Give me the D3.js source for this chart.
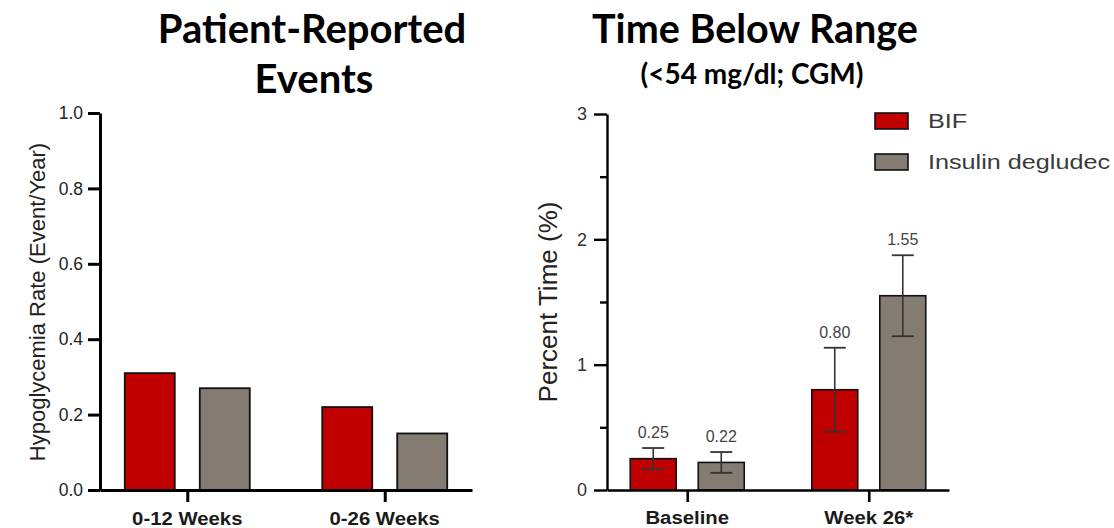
<!DOCTYPE html>
<html lang="en">
<head>
    <meta charset="UTF-8">
    <title>Hypoglycemia: Patient-Reported Events and Time Below Range</title>
    <script src="https://d3js.org/d3.v7.min.js"></script>
    <style>
        body {
            margin: 0;
            background: #fff;
        }
        svg {
            display: block;
            background: #fff;
        }
        .title {
            font-family: 'Lato', 'Open Sans', sans-serif;
            font-weight: 700;
            fill: #000;
        }
        .axis text {
            font-family: 'Liberation Sans', Arial, sans-serif;
        }
        .cat-label {
            font-family: 'Liberation Sans', Arial, sans-serif;
            font-weight: bold;
            fill: #1a1a1a;
        }
        .val-label {
            font-family: 'Liberation Sans', Arial, sans-serif;
            fill: #444;
        }
        .legend text {
            font-family: 'Liberation Sans', Arial, sans-serif;
            fill: #3a3a3a;
        }
        .ytitle {
            font-family: 'Liberation Sans', Arial, sans-serif;
            fill: #222;
        }
    </style>
</head>
<body>
<svg width="1114" height="528"></svg>

<script>
    // ---- data ----
    const seriesNames = ["BIF", "Insulin degludec"];
    const seriesColors = ["#c00000", "#847b72"];

    // left panel: patient-reported hypoglycemia rate
    const eventCats = ["0-12 Weeks", "0-26 Weeks"];
    const eventBif = [0.31, 0.22];
    const eventDeg = [0.27, 0.15];
    const eventTicks = [0, 0.2, 0.4, 0.6, 0.8, 1.0];

    // right panel: time below range (<54 mg/dl)
    const tbrCats = ["Baseline", "Week 26*"];
    const tbrBif = [0.25, 0.80];
    const tbrDeg = [0.22, 1.55];
    const tbrBifErr = [0.085, 0.335];
    const tbrDegErr = [0.083, 0.323];
    const tbrTicks = [0, 1, 2, 3];
    const tbrMinorTicks = [0.5, 1.5, 2.5];

    const svg = d3.select("svg");

    // horizontally stretched text, like the pasted Prism graphs
    function stretchText(parent, x, y, txt, cls, size, sx, anchor) {
        return parent.append("text")
            .attr("class", cls)
            .attr("transform", `translate(${x},${y}) scale(${sx},1)`)
            .attr("text-anchor", anchor || "middle")
            .style("font-size", size + "px")
            .text(txt);
    }

    // ---- titles ----
    const titles = svg.append("g");
    titles.append("text").attr("class", "title").attr("x", 312).attr("y", 43)
        .attr("text-anchor", "middle").style("font-size", "40px").text("Patient-Reported");
    titles.append("text").attr("class", "title").attr("x", 314).attr("y", 93)
        .attr("text-anchor", "middle").style("font-size", "40px").text("Events");
    titles.append("text").attr("class", "title").attr("x", 755).attr("y", 43)
        .attr("text-anchor", "middle").style("font-size", "39.5px").text("Time Below Range");
    titles.append("text").attr("class", "title").attr("x", 752).attr("y", 84)
        .attr("text-anchor", "middle").style("font-size", "28px").text("(<54 mg/dl; CGM)");

    // ---- left panel ----
    (function () {
        const left = 100, right = 472, top = 113, bottom = 490;
        const g = svg.append("g");
        const y = d3.scaleLinear().domain([0, 1]).range([bottom, top]);
        const x0 = d3.scalePoint().domain(eventCats).range([left, right]).padding(0.442);
        const x1 = d3.scaleBand().domain(seriesNames).range([-62.5, 62.5]).paddingInner(1 / 3);

        const rows = eventCats.map((c, i) => ({cat: c, vals: [eventBif[i], eventDeg[i]]}));

        g.selectAll("g.grp").data(rows).enter().append("g")
            .attr("transform", d => `translate(${x0(d.cat)},0)`)
            .selectAll("rect").data(d => d.vals.map((v, k) => ({k, v}))).enter().append("rect")
            .attr("x", d => x1(seriesNames[d.k]))
            .attr("width", x1.bandwidth())
            .attr("y", d => y(d.v))
            .attr("height", d => y(0) - y(d.v))
            .attr("fill", d => seriesColors[d.k])
            .attr("stroke", "#111")
            .attr("stroke-width", 1.8);

        const yAxis = g.append("g").attr("class", "axis")
            .attr("transform", `translate(${left},0)`)
            .call(d3.axisLeft(y).tickValues(eventTicks).tickFormat(d3.format(".1f"))
                .tickSize(12).tickSizeOuter(0).tickPadding(5));
        yAxis.selectAll("path, line").style("stroke", "#000").style("stroke-width", "3px");
        yAxis.selectAll("text").style("font-size", "17.5px").attr("fill", "#222");

        const xAxis = g.append("g").attr("class", "axis")
            .attr("transform", `translate(0,${bottom})`)
            .call(d3.axisBottom(x0).tickSize(12).tickSizeOuter(0).tickFormat(""));
        xAxis.selectAll("path, line").style("stroke", "#000").style("stroke-width", "3px");

        eventCats.forEach(c => stretchText(g, x0(c), 525, c, "cat-label", 18, 1.13));

        g.append("text").attr("class", "ytitle")
            .attr("transform", "translate(45,302) rotate(-90)")
            .attr("text-anchor", "middle")
            .style("font-size", "22px")
            .text("Hypoglycemia Rate (Event/Year)");
    })();

    // ---- right panel ----
    (function () {
        const left = 607, right = 949, top = 114, bottom = 490;
        const g = svg.append("g");
        const y = d3.scaleLinear().domain([0, 3]).range([bottom, top]);
        const x0 = d3.scalePoint().domain(tbrCats).range([left, right]).padding(0.442);
        const x1 = d3.scaleBand().domain(seriesNames).range([-57, 57]).paddingInner(0.324);

        const rows = tbrCats.map((c, i) => ({
            cat: c,
            vals: [{k: 0, v: tbrBif[i], e: tbrBifErr[i]}, {k: 1, v: tbrDeg[i], e: tbrDegErr[i]}]
        }));

        const grp = g.selectAll("g.grp").data(rows).enter().append("g")
            .attr("transform", d => `translate(${x0(d.cat)},0)`);

        const bar = grp.selectAll("g.bar").data(d => d.vals).enter().append("g");

        bar.append("rect")
            .attr("x", d => x1(seriesNames[d.k]))
            .attr("width", x1.bandwidth())
            .attr("y", d => y(d.v))
            .attr("height", d => y(0) - y(d.v))
            .attr("fill", d => seriesColors[d.k])
            .attr("stroke", "#111")
            .attr("stroke-width", 1.6);

        const cx = d => x1(seriesNames[d.k]) + x1.bandwidth() / 2;
        bar.append("line")
            .attr("x1", cx).attr("x2", cx)
            .attr("y1", d => y(d.v + d.e)).attr("y2", d => y(d.v - d.e))
            .attr("stroke", "#333").attr("stroke-width", 1.6);
        [1, -1].forEach(s => {
            bar.append("line")
                .attr("x1", d => cx(d) - 11).attr("x2", d => cx(d) + 11)
                .attr("y1", d => y(d.v + s * d.e)).attr("y2", d => y(d.v + s * d.e))
                .attr("stroke", "#333").attr("stroke-width", 1.8);
        });

        bar.append("text")
            .attr("class", "val-label")
            .attr("x", cx)
            .attr("y", d => y(d.v + d.e) - 10)
            .attr("text-anchor", "middle")
            .style("font-size", "16px")
            .text(d => d.v.toFixed(2));

        const yAxis = g.append("g").attr("class", "axis")
            .attr("transform", `translate(${left},0)`)
            .call(d3.axisLeft(y).tickValues(tbrTicks).tickFormat(d3.format("d"))
                .tickSize(13).tickSizeOuter(0).tickPadding(7));
        yAxis.selectAll("path, line").style("stroke", "#000").style("stroke-width", "2.4px");
        yAxis.selectAll("text").style("font-size", "18px").attr("fill", "#333");

        const minor = g.append("g").attr("class", "axis")
            .attr("transform", `translate(${left},0)`)
            .call(d3.axisLeft(y).tickValues(tbrMinorTicks).tickFormat("").tickSize(7).tickSizeOuter(0));
        minor.select("path").remove();
        minor.selectAll("line").style("stroke", "#000").style("stroke-width", "2.4px");

        const xAxis = g.append("g").attr("class", "axis")
            .attr("transform", `translate(0,${bottom})`)
            .call(d3.axisBottom(x0).tickSize(12).tickSizeOuter(0).tickFormat(""));
        xAxis.selectAll("path, line").style("stroke", "#000").style("stroke-width", "2.6px");

        tbrCats.forEach(c => stretchText(g, x0(c), 524, c, "cat-label", 18, 1.13));

        g.append("text").attr("class", "ytitle")
            .attr("transform", "translate(557,302) rotate(-90)")
            .attr("text-anchor", "middle")
            .style("font-size", "26px")
            .text("Percent Time (%)");

        // legend
        const legend = g.append("g").attr("class", "legend");
        const ly = d3.scalePoint().domain(seriesNames).range([121, 162]);
        seriesNames.forEach((s, i) => {
            legend.append("rect")
                .attr("x", 875).attr("y", ly(s) - 8)
                .attr("width", 33).attr("height", 16)
                .attr("fill", seriesColors[i])
                .attr("stroke", "#111").attr("stroke-width", 1.6);
            stretchText(legend, 928, ly(s) + 7, s, "", 21, 1.2, "start");
        });
    })();
</script>
</body>
</html>
